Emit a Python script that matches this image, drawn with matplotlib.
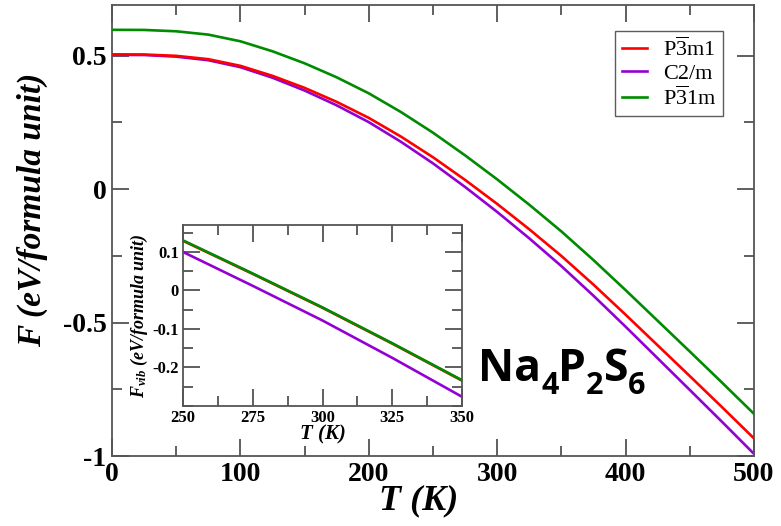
import numpy as np
import matplotlib
matplotlib.use("Agg")
import matplotlib.pyplot as plt
from matplotlib.ticker import MultipleLocator

plt.rcParams['mathtext.fontset'] = 'custom'
plt.rcParams['mathtext.rm'] = 'Liberation Serif'
plt.rcParams['mathtext.it'] = 'Liberation Serif:italic:bold'

# ---- main data: F (eV/formula unit) vs T (K)
T = [0, 25, 50, 75, 100, 125, 150, 175, 200, 225, 250, 275, 300, 325, 350,
     375, 400, 425, 450, 475, 500]
F_P3m1 = [0.505, 0.5045, 0.4995, 0.487, 0.462, 0.4245, 0.3795, 0.327, 0.267, 0.197,
          0.1195, 0.0345, -0.0555, -0.1505, -0.2505, -0.358, -0.4705, -0.5855,
          -0.7005, -0.8165, -0.934]
F_C2m = [0.503, 0.5025, 0.4965, 0.483, 0.457, 0.4175, 0.3695, 0.314, 0.251, 0.1775,
         0.0965, 0.008, -0.0855, -0.1845, -0.2885, -0.3995, -0.5155, -0.634,
         -0.7525, -0.8715, -0.992]
F_P31m = [0.597, 0.5965, 0.5915, 0.579, 0.554, 0.5165, 0.4715, 0.419, 0.359, 0.289,
          0.2115, 0.1265, 0.0365, -0.0585, -0.1585, -0.266, -0.3785, -0.4935,
          -0.6085, -0.7245, -0.842]

# ---- inset data: F_vib vs T
T_in = [250, 275, 300, 325, 350]
Fv_P3m1 = [0.129, 0.043, -0.045, -0.138, -0.234]
Fv_C2m = [0.100, 0.012, -0.078, -0.175, -0.276]
Fv_P31m = [0.130, 0.044, -0.044, -0.137, -0.233]

labels = [r'P$\overline{3}$m1', 'C2/m', r'P$\overline{3}$1m']
colors = ['#ff0000', '#9400d3', '#008b00']
formula_parts = [('Na', False), ('4', True), ('P', False), ('2', True), ('S', False), ('6', True)]

serif = 'Liberation Serif'
fig = plt.figure(figsize=(7.81, 5.26), dpi=100)
ax = fig.add_axes([112/781, 1-456/526, (754-112)/781, (456-5)/526])

ax.plot(T, F_C2m, color=colors[1], lw=1.9, label=labels[1], zorder=2)
ax.plot(T, F_P3m1, color=colors[0], lw=1.9, label=labels[0], zorder=3)
ax.plot(T, F_P31m, color=colors[2], lw=1.9, label=labels[2], zorder=4)

ax.set_xlim(0, 500)
ax.set_ylim(-1, 0.69)
ax.xaxis.set_minor_locator(MultipleLocator(50))
ax.yaxis.set_minor_locator(MultipleLocator(0.25))
ax.set_yticks([-1, -0.5, 0, 0.5])
ax.set_yticklabels(['-1', '-0.5', '0', '0.5'])
ax.set_xticks([0, 100, 200, 300, 400, 500])
ax.set_xticklabels(['0', '100', '200', '300', '400', '500'])
ax.tick_params(which='both', direction='in', top=True, right=True, color='#444444', width=1.2)
ax.tick_params(which='major', length=12, pad=4)
ax.tick_params(which='minor', length=7)
for lab in ax.get_xticklabels() + ax.get_yticklabels():
    lab.set_fontfamily(serif)
    lab.set_fontweight('bold')
    lab.set_fontsize(20)
for s in ax.spines.values():
    s.set_color('#555555')
    s.set_linewidth(1.3)

fig.text(32/781, 1-210/526, 'F (eV/formula unit)', rotation=90, ha='center', va='center',
         family=serif, weight='bold', style='italic', fontsize=24)
fig.text(419/781, 1-501/526, 'T (K)', ha='center', va='center',
         family=serif, weight='bold', style='italic', fontsize=26)

handles, labs = ax.get_legend_handles_labels()
order = [1, 0, 2]
leg = ax.legend([handles[i] for i in order], [labs[i] for i in order],
                loc='upper right', bbox_to_anchor=((723-112)/642, 1-(31-5)/451),
                prop={'family': serif, 'size': 16}, frameon=True, fancybox=False,
                handlelength=1.15, handletextpad=0.7, labelspacing=0.1,
                borderpad=0.3, borderaxespad=0.0)
leg.get_frame().set_edgecolor('#333333')
leg.get_frame().set_linewidth(1.0)

# chemical formula, built from upright bold pieces
prev = None
for txt, sub in formula_parts:
    size = 22 if sub else 32
    dy = -7 if sub else 0
    if prev is None:
        prev = fig.text(478/781, 1-392/526, txt, ha='left', va='bottom',
                        family='Open Sans', weight='bold', style='normal', fontsize=size)
        base = prev
    else:
        prev = fig.text(0, 0, txt, ha='left', va='bottom', family='Open Sans',
                        weight='bold', style='normal', fontsize=size)
        # place relative to the previous piece
        prev.set_position((0, 0))
        prev.set_transform(matplotlib.transforms.offset_copy(
            fig.transFigure, fig=fig, x=0, y=0))
        prev._chain = True
    globals().setdefault('pieces', []).append((prev, sub))

# resolve piece positions using the renderer
fig.canvas.draw()
renderer = fig.canvas.get_renderer()
x_cursor = None
y_base = None
for t, sub in pieces:
    if x_cursor is None:
        bb = t.get_window_extent(renderer)
        x_cursor = bb.x1
        y_base = bb.y0
        continue
    dy_px = -9 if sub else 0
    t.set_transform(matplotlib.transforms.IdentityTransform())
    t.set_position((x_cursor, y_base + dy_px))
    bb = t.get_window_extent(renderer)
    x_cursor = bb.x1

# ---- inset
axi = fig.add_axes([183/781, 1-406/526, (462-183)/781, (406-225)/526])
axi.plot(T_in, Fv_C2m, color=colors[1], lw=1.9, zorder=2)
axi.plot(T_in, Fv_P3m1, color=colors[0], lw=1.9, zorder=3)
axi.plot(T_in, Fv_P31m, color=colors[2], lw=1.9, zorder=4)
axi.set_xlim(250, 350)
axi.set_ylim(-0.3, 0.17)
axi.xaxis.set_major_locator(MultipleLocator(25))
axi.xaxis.set_minor_locator(MultipleLocator(12.5))
axi.set_yticks([-0.2, -0.1, 0, 0.1])
axi.set_yticklabels(['-0.2', '-0.1', '0', '0.1'])
axi.yaxis.set_minor_locator(MultipleLocator(0.05))
axi.tick_params(which='both', direction='in', top=True, right=True, color='#444444', width=1.2)
axi.tick_params(which='major', length=12, pad=3)
axi.tick_params(which='minor', length=7)
for lab in axi.get_xticklabels() + axi.get_yticklabels():
    lab.set_fontfamily(serif)
    lab.set_fontweight('bold')
    lab.set_fontsize(12)
for s in axi.spines.values():
    s.set_color('#555555')
    s.set_linewidth(1.3)
axi.set_xlabel('T (K)', family=serif, weight='bold', style='italic', fontsize=15, labelpad=-1)
axi.set_ylabel(r'$F_{vib}$ (eV/formula unit)', family=serif, weight='bold', style='italic',
               fontsize=13, labelpad=2)

fig.savefig('out.png', dpi=100)
